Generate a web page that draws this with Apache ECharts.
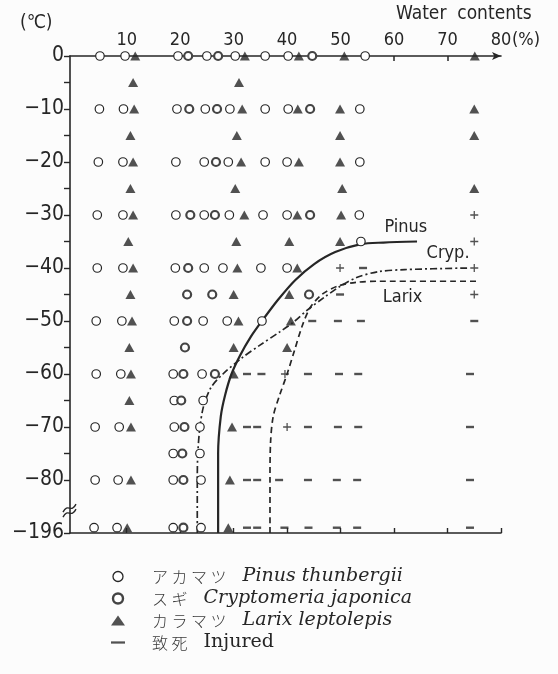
<!DOCTYPE html>
<html><head><meta charset="utf-8">
<script src="https://cdn.jsdelivr.net/npm/echarts@6/dist/echarts.min.js"></script>
<style>html,body{margin:0;padding:0;background:#fcfcfc}#c{width:558px;height:674px}</style>
</head><body><div id="c"></div>
<script>
// ---- data (x: water content %, y: temperature °C; -196 is drawn at the axis break) ----
const xTickLabels = [10, 20, 30, 40, 50, 60, 70, 80];
const yTickLabels = [0, -10, -20, -30, -40, -50, -60, -70, -80, -196];
const pinusPts = [
 [5.0,0],[9.7,0],[19.6,0],[25.0,0],[30.3,0],[35.9,0],[40.2,0],[54.6,0],
 [4.9,-10],[9.4,-10],[19.4,-10],[24.7,-10],[29.3,-10],[35.9,-10],[40.2,-10],[53.6,-10],
 [4.7,-20],[9.3,-20],[19.2,-20],[24.5,-20],[29.0,-20],[35.9,-20],[40.0,-20],[53.6,-20],
 [4.5,-30],[9.3,-30],[19.2,-30],[24.5,-30],[29.2,-30],[35.5,-30],[40.0,-30],[53.5,-30],
 [53.8,-35],
 [4.5,-40],[9.3,-40],[19.1,-40],[24.5,-40],[28.0,-40],[35.1,-40],[40.0,-40],
 [4.3,-50],[9.1,-50],[18.9,-50],[24.3,-50],[28.8,-50],[35.3,-50],
 [4.3,-60],[8.9,-60],[18.7,-60],[24.1,-60],
 [18.9,-65],[24.3,-65],
 [4.1,-70],[8.6,-70],[18.9,-70],[23.7,-70],
 [18.7,-75],[23.7,-75],
 [4.1,-80],[8.4,-80],[18.7,-80],[23.9,-80],
 [3.9,-196],[8.2,-196],[18.7,-196],[23.9,-196]
];
const crypPts = [
 [21.5,0],[27.1,0],[44.7,0],
 [21.7,-10],[26.9,-10],[44.3,-10],
 [26.7,-20],
 [21.9,-30],[26.5,-30],[44.3,-30],
 [21.5,-40],
 [21.3,-45],[26.0,-45],[44.1,-45],
 [21.3,-50],[20.9,-55],[20.6,-60],[26.5,-60],[20.2,-65],[20.8,-70],[20.4,-75],[20.6,-80],[20.6,-196]
];
const larixPts = [
 [11.6,0],[32.1,0],[42.2,0],[50.7,0],[75.1,0],
 [11.2,-5],[31.0,-5],
 [11.4,-10],[31.6,-10],[42.0,-10],[49.9,-10],[75.0,-10],
 [10.7,-15],[30.6,-15],[49.9,-15],[75.0,-15],
 [11.2,-20],[31.4,-20],[42.2,-20],[49.9,-20],
 [10.7,-25],[30.3,-25],[50.3,-25],[75.0,-25],
 [11.2,-30],[32.0,-30],[41.9,-30],[50.1,-30],
 [10.3,-35],[30.5,-35],[40.4,-35],[49.9,-35],
 [11.2,-40],[30.7,-40],[41.9,-40],
 [10.7,-45],[30.0,-45],[40.4,-45],
 [11.0,-50],[30.9,-50],[40.7,-50],
 [10.5,-55],[30.0,-55],[40.0,-55],
 [10.8,-60],[30.0,-60],
 [10.5,-65],
 [10.8,-70],[29.7,-70],
 [10.8,-80],[29.3,-80],
 [10.1,-196],[29.0,-196]
];
const injuredPts = [
 [54.2,-40],[49.9,-45],
 [44.7,-50],[49.5,-50],[53.8,-50],[75.0,-50],
 [32.5,-60],[35.2,-60],[43.9,-60],[49.7,-60],[53.3,-60],[74.2,-60],
 [32.5,-70],[34.4,-70],[43.9,-70],[49.5,-70],[53.3,-70],[74.2,-70],
 [32.5,-80],[34.4,-80],[38.5,-80],[43.9,-80],[49.3,-80],[53.1,-80],[74.2,-80],
 [32.5,-196],[34.4,-196],[39.5,-196],[44.0,-196],[49.3,-196],[53.1,-196],[74.2,-196]
];
const partialPts = [[75,-30],[75,-35],[75,-40],[75,-45],[49.9,-40],[39.6,-60],[40.0,-70]];
const pinusCurve = [[27.1,-196],[27.1,-80],[27.1,-75],[27.6,-68],[28.4,-64],[29.6,-60],[31.2,-56.5],[33.2,-53],[35.3,-50],[38.3,-46],[41.5,-42.3],[45,-39.3],[49,-37],[53.8,-35.5],[58,-35.2],[64.3,-35]];
const crypCurve = [[23.2,-196],[23.2,-80],[23.3,-75],[23.7,-70],[24.4,-66],[25.8,-62.5],[28,-60],[31.5,-57],[35,-54.5],[38.7,-52],[41.2,-50.2],[43.7,-48],[47,-45.5],[50,-43.4],[53,-41.8],[57,-40.7],[62,-40.3],[74,-40]];
const larixCurve = [[36.8,-196],[36.8,-80],[36.9,-73],[37.4,-68],[38.6,-64],[40,-60],[41.4,-55.5],[42.8,-51],[44.3,-47.5],[46.5,-45],[49.5,-43.4],[53,-42.7],[57,-42.5],[76,-42.5]];
const curveLabels = [['Pinus',62.2,-32.3],['Cryp.',70.1,-37.2],['Larix',61.6,-45.5]];
const legendJP = ['ア カ マ ツ','ス ギ','カ ラ マ ツ','致 死'];
const legendLatin = ['Pinus thunbergii','Cryptomeria japonica','Larix leptolepis','Injured'];

// ---- mapping of the broken axis ----
const BREAK_T = -196, BREAK_POS = -90, BREAK_MARK = -89;
const mapY = t => t === BREAK_T ? BREAK_MARK : t;
const mapYLine = t => t === BREAK_T ? BREAK_POS : t;
const pts = arr => arr.map(p => [p[0], mapY(p[1])]);
const line = arr => arr.map(p => [p[0], mapYLine(p[1])]);

const INK = '#262626';
const numFont = '"Liberation Sans Narrow","DejaVu Sans Condensed","Liberation Sans",sans-serif';
const chart = echarts.init(document.getElementById('c'), null, {renderer:'canvas'});
const names = ['Pinus','Cryp','Larix','Injured'];

const option = {
  backgroundColor: '#fcfcfc',
  animation: false,
  grid: {left: 70, right: 57, top: 56, bottom: 141},
  xAxis: [{
    type: 'value', position: 'top', min: -0.6, max: 80,
    axisLine: {show: true, onZero: false, symbol: ['none','arrow'], symbolSize: [6,9], lineStyle: {color: INK, width: 1.6}},
    axisTick: {show: true, inside: true, length: 5, customValues: [60,70], lineStyle: {color: INK, width: 1.5}},
    axisLabel: {customValues: xTickLabels, margin: 7, fontSize: 18, color: INK, fontFamily: numFont},
    splitLine: {show: false}
  },{
    type: 'value', position: 'bottom', min: -0.6, max: 80,
    axisLine: {show: true, onZero: false, lineStyle: {color: INK, width: 1.6}},
    axisTick: {show: true, inside: true, length: 5, customValues: [10,20,30,40,50,60,70,80], lineStyle: {color: INK, width: 1.4}},
    axisLabel: {show: false}, splitLine: {show: false}
  }],
  yAxis: {
    type: 'value', min: -90, max: 0,
    axisLine: {show: true, onZero: false, lineStyle: {color: INK, width: 1.6}},
    axisTick: {show: true, length: 6, customValues: [0,-5,-10,-15,-20,-25,-30,-35,-40,-45,-50,-55,-60,-65,-70,-75,-80,-90], lineStyle: {color: INK, width: 1.4}},
    axisLabel: {customValues: yTickLabels.map(mapYLine), margin: 6, fontSize: 21, color: INK, fontFamily: numFont,
      formatter: v => { const t = v === BREAK_POS ? BREAK_T : v; return t === 0 ? '0' : '\u2212' + Math.abs(t); }},
    splitLine: {show: false}
  },
  legend: {
    orient: 'vertical', left: 106, top: 562, itemGap: 3, itemWidth: 14, itemHeight: 10,
    selectedMode: false,
    data: [
      {name: 'Pinus', icon: 'circle', itemStyle: {color: '#fff', borderColor: INK, borderWidth: 1.3}},
      {name: 'Cryp', icon: 'circle', itemStyle: {color: '#fff', borderColor: '#444', borderWidth: 2.4}},
      {name: 'Larix', icon: 'triangle', itemStyle: {color: INK}},
      {name: 'Injured', icon: 'path://M0,4.2 H10 V5.8 H0 Z', itemStyle: {color: INK}}
    ],
    formatter: n => { const i = names.indexOf(n); return '{sp|}{jp|' + legendJP[i] + '}{g|}' + (i === 3 ? '{up|' : '{it|') + legendLatin[i] + '}'; },
    textStyle: {color: INK, rich: {
      sp: {width: 22},
      jp: {fontFamily: '"Noto Sans CJK JP",sans-serif', fontSize: 16, color: '#3a3a3a', fontWeight: 300},
      g: {width: 16},
      it: {fontFamily: '"DejaVu Serif","Liberation Serif",serif', fontStyle: 'italic', fontSize: 19, color: INK, lineHeight: 20},
      up: {fontFamily: '"DejaVu Serif","Liberation Serif",serif', fontSize: 19, color: INK, lineHeight: 20}
    }}
  },
  series: [
    {name: 'PinusCurve', type: 'line', data: line(pinusCurve), smooth: 0.3, showSymbol: false, symbol: 'none', lineStyle: {color: INK, width: 2.2}, z: 1},
    {name: 'CrypCurve', type: 'line', data: line(crypCurve), smooth: 0.3, showSymbol: false, symbol: 'none', lineStyle: {color: INK, width: 1.7, type: [7,3,2,3]}, z: 1},
    {name: 'LarixCurve', type: 'line', data: line(larixCurve), smooth: 0.3, showSymbol: false, symbol: 'none', lineStyle: {color: INK, width: 1.7, type: [6,4]}, z: 1},
    {name: 'Pinus', type: 'scatter', data: pts(pinusPts), symbol: 'circle', symbolSize: 8.5, itemStyle: {color: '#fff', borderColor: INK, borderWidth: 1.2, opacity: 1}, z: 3},
    {name: 'Cryp', type: 'scatter', data: pts(crypPts), symbol: 'circle', symbolSize: 8, itemStyle: {color: '#fff', borderColor: '#444', borderWidth: 2.2, opacity: 1}, z: 3},
    {name: 'Larix', type: 'scatter', data: pts(larixPts), symbol: 'triangle', symbolSize: [10,9], itemStyle: {color: INK}, z: 3},
    {name: 'Injured', type: 'scatter', data: pts(injuredPts), symbol: 'rect', symbolSize: [8,2.4], itemStyle: {color: INK}, z: 3},
    {name: 'Partial', type: 'scatter', data: pts(partialPts), symbol: 'path://M4.2,0 H5.8 V4.2 H10 V5.8 H5.8 V10 H4.2 V5.8 H0 V4.2 H4.2 Z', symbolSize: 8, itemStyle: {color: INK}, z: 3}
  ]
};
chart.setOption(option);

// text annotations and break mark
const gfx = [
  {type: 'text', left: 20, top: 14, style: {text: '(\u2103)', font: '19px ' + numFont, fill: INK}},
  {type: 'text', left: 396, top: 5, style: {text: 'Water  contents', font: '19px ' + numFont, fill: INK}},
];
const p80 = chart.convertToPixel({xAxisIndex: 0, yAxisIndex: 0}, [80, 0]);
gfx.push({type: 'text', x: p80[0] + 11, y: p80[1] - 25, style: {text: '(%)', font: '18px ' + numFont, fill: INK}});
curveLabels.forEach(c => {
  const p = chart.convertToPixel({xAxisIndex: 0, yAxisIndex: 0}, [c[1], c[2]]);
  gfx.push({type: 'text', x: p[0], y: p[1], style: {text: c[0], font: '18px ' + numFont, fill: INK, align: 'center', verticalAlign: 'middle'}});
});
const pb = chart.convertToPixel({xAxisIndex: 0, yAxisIndex: 0}, [-0.6, -85.3]);
[0, 5].forEach(d => gfx.push({type: 'bezierCurve', shape: {x1: pb[0]-7, y1: pb[1]+4+d, x2: pb[0]+6, y2: pb[1]-4+d, cpx1: pb[0]-2, cpy1: pb[1]-6+d, cpx2: pb[0]+1, cpy2: pb[1]+6+d}, style: {stroke: INK, lineWidth: 1.4, fill: null}}));
chart.setOption({graphic: gfx});
</script></body></html>
